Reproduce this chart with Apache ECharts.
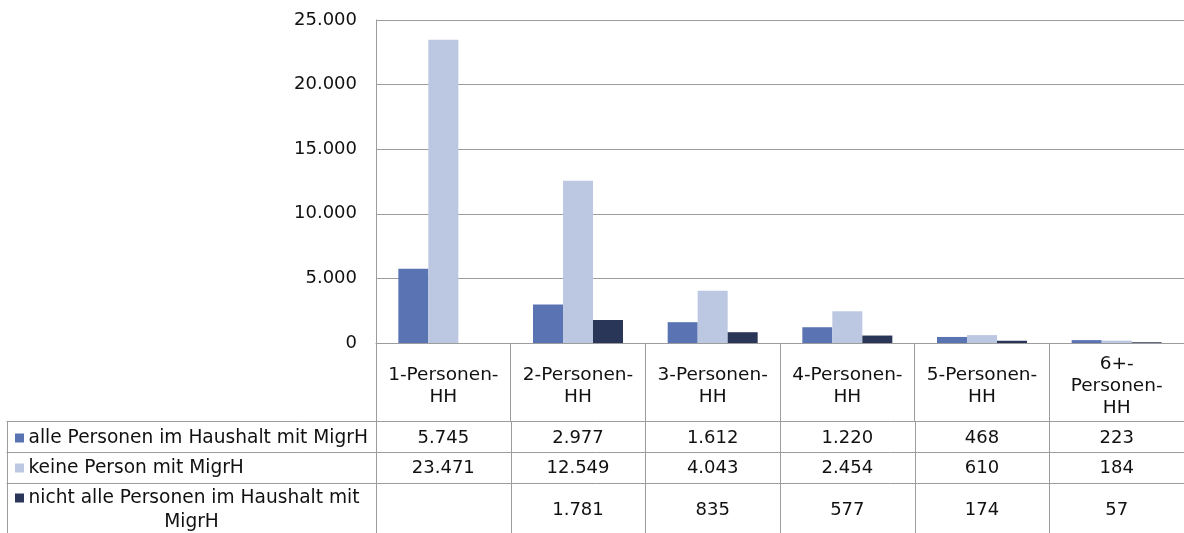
<!DOCTYPE html>
<html>
<head>
<meta charset="utf-8">
<script src="https://cdn.jsdelivr.net/npm/echarts@6/dist/echarts.min.js"></script>
<style>
  html, body { margin: 0; padding: 0; background: #fff; }
  #chart { width: 1184px; height: 533px; }
</style>
</head>
<body>
<div id="chart"></div>
<script>
// Daten
const categories = ['1-Personen-HH', '2-Personen-HH', '3-Personen-HH', '4-Personen-HH', '5-Personen-HH', '6+-Personen-HH'];
const categoryLabels = ['1-Personen-\nHH', '2-Personen-\nHH', '3-Personen-\nHH', '4-Personen-\nHH', '5-Personen-\nHH', '6+-\nPersonen-\nHH'];
const seriesNames = ['alle Personen im Haushalt mit MigrH', 'keine Person mit MigrH', 'nicht alle Personen im Haushalt mit MigrH'];
const rowLabels = ['alle Personen im Haushalt mit MigrH', 'keine Person mit MigrH', 'nicht alle Personen im Haushalt mit\nMigrH'];
const alleMigrH = [5745, 2977, 1612, 1220, 468, 223];
const keineMigrH = [23471, 12549, 4043, 2454, 610, 184];
const nichtAlleMigrH = [null, 1781, 835, 577, 174, 57];
const yMin = 0, yMax = 25000, yStep = 5000;

const colors = ['#5a73b2', '#bcc7e2', '#2a3658'];
const FONT = 'DejaVu Sans';
const lineColor = '#9c9c9c';

// Tausenderpunkt
const fmt = (v) => v == null ? '' : String(v).replace(/\B(?=(\d{3})+(?!\d))/g, '.');

const chart = echarts.init(document.getElementById('chart'));

const option = {
  animation: false,
  backgroundColor: '#fff',
  textStyle: { fontFamily: FONT },
  grid: { left: 376, top: 20, height: 323, right: -8 },
  xAxis: {
    type: 'category',
    data: categories,
    axisLine: { show: true, lineStyle: { color: lineColor, width: 1 } },
    axisTick: { show: true, length: 79, lineStyle: { color: lineColor, width: 1 } },
    axisLabel: {
      interval: 0,
      margin: 43,
      verticalAlign: 'middle',
      fontSize: 18.5,
      lineHeight: 22,
      color: '#111',
      formatter: (v, i) => categoryLabels[i]
    }
  },
  yAxis: {
    type: 'value',
    min: yMin,
    max: yMax,
    interval: yStep,
    axisLine: { show: true, lineStyle: { color: lineColor, width: 1 } },
    axisTick: { show: false },
    splitLine: { lineStyle: { color: lineColor, width: 1 } },
    axisLabel: { margin: 19, fontSize: 18, color: '#111', formatter: (v) => fmt(v) }
  },
  series: [alleMigrH, keineMigrH, nichtAlleMigrH].map((d, i) => ({
    name: seriesNames[i],
    type: 'bar',
    data: d,
    barWidth: 30,
    barGap: '0%',
    itemStyle: { color: colors[i] }
  }))
};

chart.setOption(option);

// Datentabelle unter der Achse, Spalten aus der Kategorienachse
const centers = categories.map((c, i) => chart.convertToPixel({ gridIndex: 0 }, [i, 0])[0]);
const band = centers[1] - centers[0];
const edges = centers.map(c => c - band / 2).concat([centers[centers.length - 1] + band / 2]);
const tableLeft = 7;
const rowLines = [421.5, 452.5, 483.5, 538.5];
const rowMid = [438, 468, 510];
const labelFirstMid = [438, 468, 498];
const seriesData = [alleMigrH, keineMigrH, nichtAlleMigrH];

const px = (v) => Math.round(v) + 0.5;
const graphics = [];
const line = (x1, y1, x2, y2) => graphics.push({
  type: 'line', silent: true,
  shape: { x1, y1, x2, y2 },
  style: { stroke: lineColor, lineWidth: 1 }
});
const text = (x, y, t, align, size) => graphics.push({
  type: 'text', silent: true, x, y,
  style: { text: t, font: size + 'px "' + FONT + '"', fill: '#111', align, verticalAlign: 'middle' }
});

rowLines.forEach(y => line(tableLeft - 0.5, y, 1200, y));
line(tableLeft + 0.5, rowLines[0], tableLeft + 0.5, 540);
edges.forEach(x => line(px(x), rowLines[0], px(x), 540));

seriesData.forEach((d, r) => {
  graphics.push({
    type: 'rect', silent: true,
    shape: { x: 15, y: labelFirstMid[r] - 4.5, width: 9, height: 9 },
    style: { fill: colors[r] }
  });
  const parts = rowLabels[r].split('\n');
  text(28.5, labelFirstMid[r], parts[0], 'left', 18.6);
  if (parts[1]) text((tableLeft + edges[0]) / 2, labelFirstMid[r] + 24.5, parts[1], 'center', 18.6);
  d.forEach((v, i) => text(centers[i], rowMid[r], fmt(v), 'center', 18));
});

chart.setOption({ graphic: graphics });
</script>
</body>
</html>
